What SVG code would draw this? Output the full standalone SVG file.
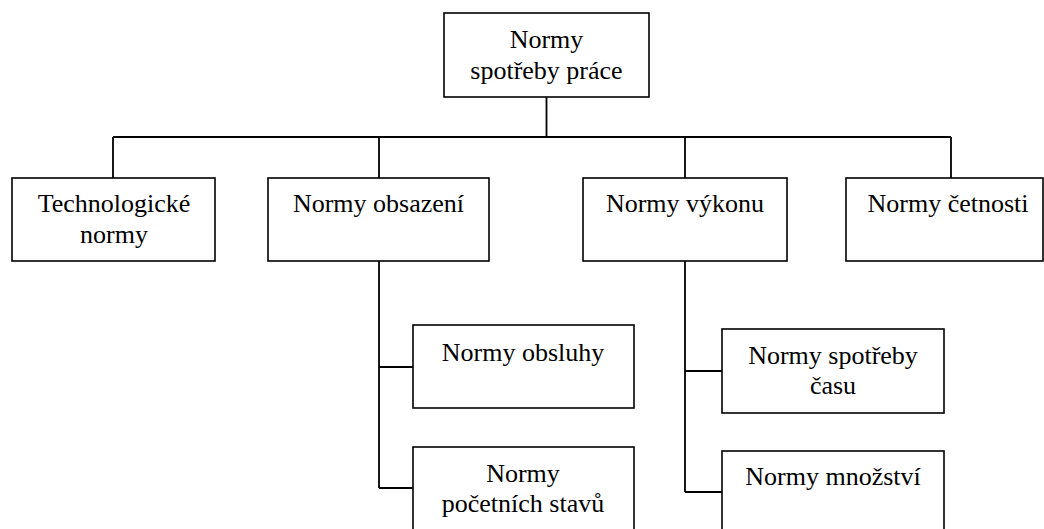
<svg xmlns="http://www.w3.org/2000/svg" width="1044" height="529" viewBox="0 0 1044 529">
<style>
.box{fill:#fff;stroke:#000;stroke-width:1.6}
.ln{fill:none;stroke:#000;stroke-width:1.8}
text{font-family:"Liberation Serif","Times New Roman",serif;font-size:26px;fill:#000;text-anchor:middle}
</style>
<rect width="1044" height="529" fill="#fff"/>
<g id="connectors">
<path class="ln" d="M546.5 97V137M113 137H951M113 137V178M379 137V178M685 137V178M951 137V178"/>
<path class="ln" d="M379 261V488M379 367H413M379 488H413"/>
<path class="ln" d="M685 261V492M685 371H722M685 492H722"/>
</g>
<g id="n-root"><rect class="box" x="444" y="13" width="205" height="84"/><text x="546.5" y="48">Normy</text><text x="546.5" y="79">spotřeby práce</text></g>
<g id="n-tech"><rect class="box" x="12" y="178" width="203" height="83"/><text x="114" y="212">Technologické</text><text x="114" y="243">normy</text></g>
<g id="n-obsazeni"><rect class="box" x="268" y="178" width="221" height="83"/><text x="378.5" y="212">Normy obsazení</text></g>
<g id="n-vykonu"><rect class="box" x="583" y="178" width="204" height="83"/><text x="685" y="212">Normy výkonu</text></g>
<g id="n-cetnosti"><rect class="box" x="846" y="178" width="197" height="83"/><text x="948" y="212">Normy četnosti</text></g>
<g id="n-obsluhy"><rect class="box" x="413" y="325" width="221" height="83"/><text x="523" y="361">Normy obsluhy</text></g>
<g id="n-pocetnich"><rect class="box" x="413" y="447" width="221" height="100"/><text x="523" y="482">Normy</text><text x="523" y="512">početních stavů</text></g>
<g id="n-casu"><rect class="box" x="722" y="329" width="222" height="84"/><text x="833" y="364">Normy spotřeby</text><text x="833" y="394">času</text></g>
<g id="n-mnozstvi"><rect class="box" x="722" y="451" width="222" height="100"/><text x="833" y="485">Normy množství</text></g>
</svg>
